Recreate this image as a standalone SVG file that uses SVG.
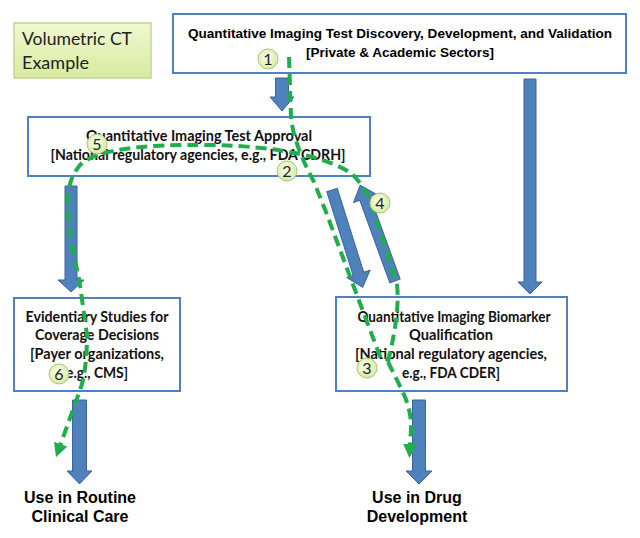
<svg xmlns="http://www.w3.org/2000/svg" width="640" height="538" viewBox="0 0 640 538">
<style>
.box{fill:#fff;stroke:#4f81bd;stroke-width:2}
.arr{fill:#4f81bd;stroke:#3b659a;stroke-width:1}
.ar{font-family:"Liberation Sans",Arial,sans-serif;font-weight:bold;fill:#000}
.cb{font-family:Lato,"Liberation Sans",sans-serif;font-weight:bold;font-size:14.5px;fill:#111}
.dash{fill:none;stroke:#1fae4b;stroke-width:4;stroke-dasharray:11 6;stroke-linejoin:round;stroke-linecap:butt}
.num circle{fill:url(#ng);stroke:#a9c873;stroke-width:1}
.num text{font-family:Lato,"Liberation Sans",sans-serif;font-size:16px;fill:#222;text-anchor:middle}
</style>
<defs>
<linearGradient id="vg" x1="0" y1="0" x2="0" y2="1">
<stop offset="0" stop-color="#eff8d2"/><stop offset="1" stop-color="#d8eb9f"/>
</linearGradient>
<radialGradient id="ng" cx="0.45" cy="0.4" r="0.6">
<stop offset="0" stop-color="#fbfde9"/><stop offset="1" stop-color="#d6eaa5"/>
</radialGradient>
<marker id="gh" markerUnits="userSpaceOnUse" markerWidth="16" markerHeight="16" refX="2" refY="7" orient="auto">
<path d="M0,0 L14,7 L0,14 Z" fill="#1fae4b"/>
</marker>
</defs>

<g id="volumetric">
<rect x="14" y="23" width="137" height="55" fill="url(#vg)" stroke="#c3d891" stroke-width="1.5"/>
<text x="22" y="45" font-family="Lato,'Liberation Sans',sans-serif" font-size="18" fill="#222" textLength="110" lengthAdjust="spacingAndGlyphs">Volumetric CT</text>
<text x="22" y="69" font-family="Lato,'Liberation Sans',sans-serif" font-size="18" fill="#222" textLength="67" lengthAdjust="spacingAndGlyphs">Example</text>
</g>

<g id="discovery">
<rect class="box" x="173" y="14" width="453" height="59"/>
<text class="ar" x="400" y="38" font-size="13.5" text-anchor="middle" textLength="424" lengthAdjust="spacingAndGlyphs">Quantitative Imaging Test Discovery, Development, and Validation</text>
<text class="ar" x="400" y="57" font-size="13.5" text-anchor="middle">[Private &amp; Academic Sectors]</text>
</g>

<g id="approval">
<rect class="box" x="28" y="117" width="342" height="59"/>
<text class="cb" x="199" y="141" text-anchor="middle" textLength="226" lengthAdjust="spacingAndGlyphs">Quantitative Imaging Test Approval</text>
<text class="cb" x="198" y="160" text-anchor="middle" textLength="295" lengthAdjust="spacingAndGlyphs">[National regulatory agencies, e.g., FDA CDRH]</text>
</g>

<g id="evidentiary">
<rect class="box" x="14" y="298" width="166" height="93"/>
<text class="cb" x="97" y="322" text-anchor="middle" textLength="143" lengthAdjust="spacingAndGlyphs">Evidentiary Studies for</text>
<text class="cb" x="97" y="340" text-anchor="middle" textLength="124" lengthAdjust="spacingAndGlyphs">Coverage Decisions</text>
<text class="cb" x="97" y="359" text-anchor="middle" textLength="134" lengthAdjust="spacingAndGlyphs">[Payer organizations,</text>
<text class="cb" x="97" y="378" text-anchor="middle" textLength="62" lengthAdjust="spacingAndGlyphs">e.g., CMS]</text>
</g>

<g id="biomarker">
<rect class="box" x="336" y="297" width="231" height="94"/>
<text class="cb" x="454" y="322" text-anchor="middle" textLength="193" lengthAdjust="spacingAndGlyphs">Quantitative Imaging Biomarker</text>
<text class="cb" x="451" y="340" text-anchor="middle" textLength="84" lengthAdjust="spacingAndGlyphs">Qualification</text>
<text class="cb" x="451" y="359" text-anchor="middle" textLength="192" lengthAdjust="spacingAndGlyphs">[National regulatory agencies,</text>
<text class="cb" x="451" y="378" text-anchor="middle" textLength="98" lengthAdjust="spacingAndGlyphs">e.g., FDA CDER]</text>
</g>

<g id="routine">
<text class="ar" x="80" y="503" font-size="16" text-anchor="middle">Use in Routine</text>
<text class="ar" x="80" y="522" font-size="16" text-anchor="middle">Clinical Care</text>
</g>

<g id="drug">
<text class="ar" x="417" y="503" font-size="16" text-anchor="middle">Use in Drug</text>
<text class="ar" x="417" y="522" font-size="16" text-anchor="middle">Development</text>
</g>

<g id="connectors">
<path class="arr" d="M275.5,78 H288.5 V97 H294 L282,111 L270,97 H275.5 Z"/>
<path class="arr" d="M524,79 H536 V282 H542 L530,294 L518,282 H524 Z"/>
<path class="arr" d="M65,186 H77 V280 H84 L71,292 L58,280 H65 Z"/>
<path class="arr" d="M72.5,400 H86.5 V471 H92 L79.5,484 L67,471 H72.5 Z"/>
<path class="arr" d="M412.5,400 H425.5 V471 H432 L419,484 L406,471 H412.5 Z"/>
<path class="arr" transform="translate(332,190) rotate(-17.5)" d="M-5.5,0 H5.5 V88 H12 L0,102 L-12,88 H-5.5 Z"/>
<path class="arr" transform="translate(395,281) rotate(160)" d="M-5.5,0 H5.5 V88 H12 L0,102 L-12,88 H-5.5 Z"/>

<path class="dash" d="M289,57 L291,117 C293,140 305,165 314,182 L326,212 L352,282 L381,359 L390,359"/>
<path class="dash" marker-end="url(#gh)" d="M388,362 C392,345 400,310 397,285 L372,205 C366,190 360,182 352,174 C330,158 280,146 210,145 C140,144 95,150 80,165 C72,175 68,185 68,200 C68,240 76,260 80,285 L87,335 C87,360 84,380 80,390 L60,446"/>
<path class="dash" marker-end="url(#gh)" d="M388,362 L397,380 L405,397 C410,410 411,418 411,428 L410,446"/>
</g>

<g id="n1" class="num"><circle cx="268" cy="59" r="10"/><text x="268" y="65">1</text></g>
<g id="n2" class="num"><circle cx="287" cy="171" r="10"/><text x="287" y="177">2</text></g>
<g id="n3" class="num"><circle cx="367" cy="368" r="10"/><text x="367" y="374">3</text></g>
<g id="n4" class="num"><circle cx="380" cy="203" r="10"/><text x="380" y="209">4</text></g>
<g id="n5" class="num"><circle cx="97" cy="144" r="10"/><text x="97" y="150">5</text></g>
<g id="n6" class="num"><circle cx="59" cy="374" r="10"/><text x="59" y="380">6</text></g>
</svg>
